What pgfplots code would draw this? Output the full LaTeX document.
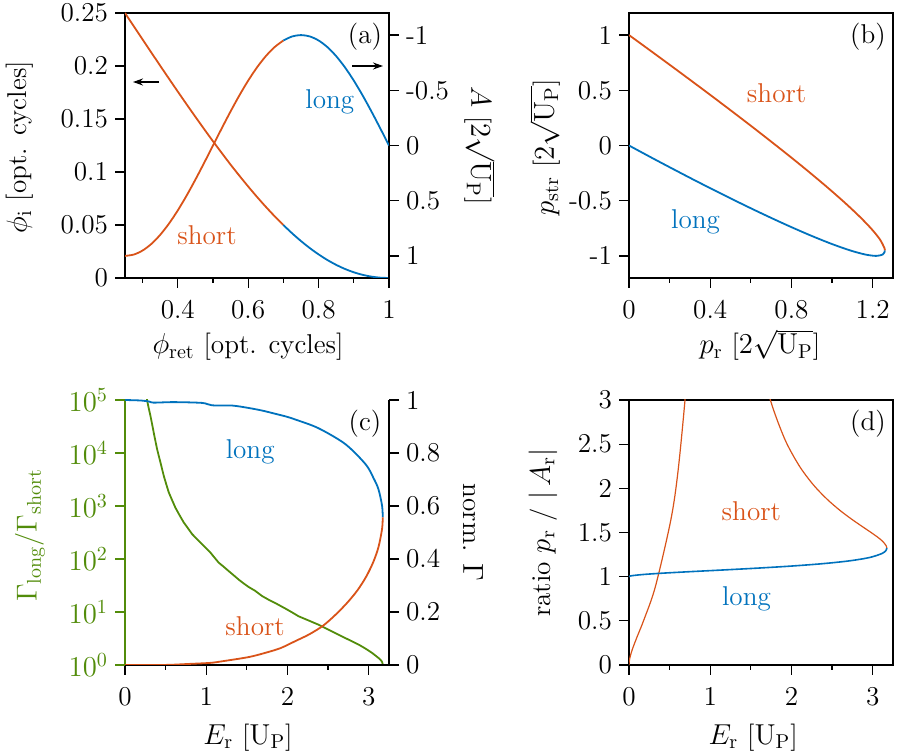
\documentclass[border=0pt]{standalone}
\usepackage{pgfplots}
\pgfplotsset{compat=1.18}
\usetikzlibrary{arrows.meta}
\definecolor{cred}{RGB}{217,83,25}
\definecolor{cblue}{RGB}{0,114,189}
\definecolor{cgreen}{RGB}{82,140,10}
\newcommand\fs{\fontsize{13.6}{16}\selectfont}
\pgfplotsset{
 panel/.style={scale only axis, width=132pt, height=132.5pt, anchor=south west,
   tick align=outside, major tick length=5pt, minor tick length=2.5pt,
   axis line style={line width=0.6pt},
   every tick/.append style={line width=0.6pt, black},
   tick label style={font=\fs}, label style={font=\fs},
   xticklabel style={yshift=-2.5pt},
   xtick pos=left, ytick pos=left,
   every axis plot/.append style={line width=0.9pt},
 },
 ylab/.style 2 args={every axis y label/.style={at={(axis description cs:#1,#2)}, anchor=center, rotate=90, font=\fs}},
 ylabr/.style 2 args={every axis y label/.style={at={(axis description cs:#1,#2)}, anchor=center, rotate=-90, font=\fs}},
 xlab/.style 2 args={every axis x label/.style={at={(axis description cs:#1,#2)}, anchor=center, font=\fs}},
}
\begin{document}
\begin{tikzpicture}
\path[use as bounding box] (0,0) rectangle (450pt,377.5pt);
% ---------------- (a) ----------------
\begin{axis}[panel, at={(62.5pt,238.5pt)}, xmin=0.25, xmax=1, ymin=0, ymax=0.25,
  xtick={0.4,0.6,0.8,1}, xticklabels={0.4,0.6,0.8,1}, minor xtick={0.3,0.5,0.7,0.9},
  ytick={0,0.05,0.1,0.15,0.2,0.25}, yticklabels={0,0.05,0.1,0.15,0.2,0.25},
  xlab={0.466}{-0.26}, ylab={-0.398}{0.494},
  xlabel={$\phi_{\mathrm{ret}}$ [opt. cycles]}, ylabel={$\phi_{\mathrm{i}}$ [opt. cycles]}]
\addplot[cred, smooth] coordinates {(0.25,0.25)(0.26,0.245)(0.275,0.2375)(0.3,0.225)(0.325,0.2126)(0.35,0.20025)(0.375,0.188)(0.4,0.17586)(0.425,0.16387)(0.45,0.15204)(0.475,0.14041)(0.5,0.12898)(0.525,0.11787)(0.55,0.10694)(0.575,0.09646)(0.6,0.0863)(0.625,0.07652)(0.65,0.06717)(0.675,0.05829)(0.7,0.04992)};
\addplot[cblue, smooth] coordinates {(0.7,0.04992)(0.725,0.04209)(0.75,0.03485)(0.775,0.02823)(0.8,0.02226)(0.825,0.01697)(0.85,0.01239)(0.875,0.008525)(0.9,0.005394)(0.925,0.002989)(0.95,0.001305)(0.975,0.00032)(1,0)};
\node[font=\fs] at (rel axis cs:0.909,0.909) {(a)};
\node[font=\fs, text=cblue] at (axis cs:0.832,0.166) {long};
\node[font=\fs, text=cred] at (axis cs:0.483,0.0406) {short};
\draw[line width=0.6pt,-{Stealth[length=5pt,width=3.5pt]}] (axis cs:0.3466,0.1849) -- (axis cs:0.2727,0.1849);
\draw[line width=0.6pt,-{Stealth[length=5pt,width=3.5pt]}] (axis cs:0.8949,0.2) -- (axis cs:0.983,0.2);
\end{axis}
\begin{axis}[panel, at={(62.5pt,238.5pt)}, xmin=0.25, xmax=1, ymin=-1.2, ymax=1.2, y dir=reverse,
  axis x line=none, axis y line*=right, ytick pos=right, tick align=outside,
  ytick={-1,-0.5,0,0.5,1}, yticklabels={-1,-0.5,0,0.5,1},
  ylabr={1.345}{0.5}, ylabel={$A$ [$2\sqrt{\mathrm{U}_{\mathrm{P}}}$]}]
\addplot[cred, smooth] coordinates {(0.25,1)(0.275,0.98769)(0.3,0.95106)(0.325,0.89101)(0.35,0.80902)(0.375,0.70711)(0.4,0.58779)(0.425,0.45399)(0.45,0.30902)(0.475,0.15643)(0.5,0)(0.525,-0.15643)(0.55,-0.30902)(0.575,-0.45399)(0.6,-0.58779)(0.625,-0.70711)(0.65,-0.80902)(0.675,-0.89101)(0.7,-0.95106)};
\addplot[cblue, smooth] coordinates {(0.7,-0.95106)(0.725,-0.98769)(0.75,-1)(0.775,-0.98769)(0.8,-0.95106)(0.825,-0.89101)(0.85,-0.80902)(0.875,-0.70711)(0.9,-0.58779)(0.925,-0.45399)(0.95,-0.30902)(0.975,-0.15643)(1,0)};
\end{axis}
% ---------------- (b) ----------------
\begin{axis}[panel, at={(314.5pt,238.5pt)}, xmin=0, xmax=1.3, ymin=-1.2, ymax=1.2,
  xtick={0,0.4,0.8,1.2}, xticklabels={0,0.4,0.8,1.2}, minor xtick={0.2,0.6,1.0},
  ytick={-1,-0.5,0,0.5,1}, yticklabels={-1,-0.5,0,0.5,1},
  xlab={0.496}{-0.253}, ylab={-0.318}{0.494},
  xlabel={$p_{\mathrm{r}}$ [$2\sqrt{\mathrm{U}_{\mathrm{P}}}$]}, ylabel={$p_{\mathrm{str}}$ [$2\sqrt{\mathrm{U}_{\mathrm{P}}}$]}]
\addplot[cred, smooth] coordinates {(0,1)(0.00923,0.98769)(0.03663,0.95106)(0.08151,0.89101)(0.14252,0.80902)(0.21796,0.70711)(0.30565,0.58779)(0.40307,0.45399)(0.50739,0.30902)(0.61565,0.15643)(0.72442,0)(0.81017,-0.12533)(0.89238,-0.24869)(0.979,-0.38268)(1.06537,-0.5225)(1.13865,-0.64945)(1.19632,-0.76041)(1.2363,-0.85264)(1.25785,-0.92978)(1.2596,-0.95106)};
\addplot[cblue, smooth] coordinates {(1.2596,-0.95106)(1.25793,-0.96858)(1.2491,-0.98769)(1.21722,-1)(1.16414,-0.98769)(1.09046,-0.95106)(0.99743,-0.89101)(0.88679,-0.80902)(0.76065,-0.70711)(0.62167,-0.58779)(0.47277,-0.45399)(0.31722,-0.30902)(0.15844,-0.15643)(0.06311,-0.06279)(0,0)};
\node[font=\fs] at (rel axis cs:0.905,0.909) {(b)};
\node[font=\fs, text=cred] at (axis cs:0.727,0.474) {short};
\node[font=\fs, text=cblue] at (axis cs:0.328,-0.688) {long};
\end{axis}
% ---------------- (c) ----------------
\begin{axis}[panel, at={(62.5pt,45pt)}, xmin=0, xmax=3.25, ymin=0, ymax=5,
  axis x line*=bottom, axis y line*=left, tick align=outside,
  xtick={0,1,2,3}, xticklabels={0,1,2,3}, minor xtick={0.5,1.5,2.5},
  ytick={0,1,2,3,4,5}, yticklabels={$10^0$,$10^1$,$10^2$,$10^3$,$10^4$,$10^5$},
  yticklabel style={text=cgreen}, ytick style={cgreen}, y axis line style={cgreen},
  xlab={0.466}{-0.273}, ylab={-0.36}{0.489},
  ylabel style={text=cgreen},
  xlabel={$E_{\mathrm{r}}$ [$\mathrm{U}_{\mathrm{P}}$]}, ylabel={$\Gamma_{\mathrm{long}}/\Gamma_{\mathrm{short}}$}]
\addplot[cgreen] coordinates {(0.265,5.05)(0.271,5.0)(0.29,4.86)(0.312,4.71)(0.333,4.55)(0.353,4.39)(0.374,4.23)(0.394,4.08)(0.415,3.95)(0.435,3.83)(0.456,3.70)(0.477,3.57)(0.508,3.41)(0.538,3.26)(0.58,3.11)(0.62,2.97)(0.67,2.83)(0.723,2.69)(0.775,2.58)(0.826,2.47)(0.89,2.37)(0.949,2.28)(1.0,2.20)(1.052,2.12)(1.1,2.03)(1.154,1.93)(1.21,1.86)(1.278,1.77)(1.34,1.69)(1.401,1.61)(1.46,1.54)(1.524,1.47)(1.602,1.40)(1.689,1.30)(1.77,1.23)(1.849,1.17)(1.92,1.11)(1.98,1.06)(2.06,0.99)(2.136,0.92)(2.26,0.84)(2.383,0.76)(2.5,0.67)(2.63,0.57)(2.75,0.48)(2.876,0.385)(2.96,0.31)(3.04,0.23)(3.09,0.17)(3.123,0.13)(3.15,0.09)(3.164,0.06)(3.176,0)};
\end{axis}
\begin{axis}[panel, at={(62.5pt,45pt)}, xmin=0, xmax=3.25, ymin=0, ymax=1,
  axis x line*=top, xtick=\empty, axis y line*=right, ytick pos=right, tick align=outside,
  ytick={0,0.2,0.4,0.6,0.8,1}, yticklabels={0,0.2,0.4,0.6,0.8,1},
  ylabr={1.318}{0.5}, ylabel={norm. $\Gamma$}]
\addplot[cblue, smooth] coordinates {(0,1)(0.2,0.998)(0.3,0.994)(0.35,0.99)(0.6,0.992)(0.95,0.989)(1.07,0.98)(1.32,0.979)(1.52,0.97)(1.69,0.96)(1.85,0.948)(1.99,0.937)(2.1,0.926)(2.3782,0.894)(2.7104,0.834)(2.9633,0.757)(3.06,0.705)(3.1205,0.663)(3.1648,0.601)(3.1732,0.557)};
\addplot[cred, smooth] coordinates {(0,0)(0.5,0.0003)(0.785,0.004)(1.05,0.008)(1.196,0.014)(1.524,0.03)(1.74,0.047)(1.917,0.064)(2.0957,0.09)(2.27,0.116)(2.4371,0.148)(2.593,0.19)(2.7358,0.235)(2.862,0.282)(2.9702,0.334)(3.057,0.389)(3.1205,0.445)(3.1644,0.513)(3.1732,0.557)};
\node[font=\fs] at (rel axis cs:0.909,0.909) {(c)};
\node[font=\fs, text=cblue] at (axis cs:1.541,0.804) {long};
\node[font=\fs, text=cred] at (axis cs:1.602,0.148) {short};
\end{axis}
% ---------------- (d) ----------------
\begin{axis}[panel, at={(314.5pt,45pt)}, xmin=0, xmax=3.25, ymin=0, ymax=3,
  xtick={0,1,2,3}, xticklabels={0,1,2,3}, minor xtick={0.5,1.5,2.5},
  ytick={0,0.5,1,1.5,2,2.5,3}, yticklabels={0,0.5,1,1.5,2,2.5,3},
  xlab={0.47}{-0.273}, ylab={-0.326}{0.5},
  xlabel={$E_{\mathrm{r}}$ [$\mathrm{U}_{\mathrm{P}}$]}, ylabel={ratio $p_{\mathrm{r}}$ / $|\,A_{\mathrm{r}}|$}]
\addplot[cred, line width=0.6pt, smooth] coordinates {(0,0)(0.0005,0.0158)(0.00268,0.03852)(0.01329,0.09148)(0.04062,0.17616)(0.09501,0.30824)(0.18684,0.52)(0.32493,0.88784)(0.51488,1.64193)(0.60584,2.21312)(0.70533,3.16928)(0.75805,3.9356)};
\addplot[cred, line width=0.6pt, smooth] coordinates {(1.45092,4.5455)(1.59268,3.5883)(1.73568,3.01463)(1.91688,2.5583)(2.09571,2.25479)(2.27002,2.03898)(2.43714,1.87804)(2.59305,1.75325)(2.73583,1.65402)(2.86236,1.57328)(2.97017,1.50631)(3.05688,1.44998)(3.12045,1.40188)(3.16437,1.35284)(3.17322,1.32442)};
\addplot[cblue, line width=0.8pt, smooth] coordinates {(3.17322,1.32442)(3.16477,1.29874)(3.1205,1.26465)(2.96326,1.21722)(2.71044,1.17865)(2.37821,1.14658)(1.98974,1.11945)(1.57279,1.09613)(1.15718,1.07572)(0.77295,1.05764)(0.44702,1.04137)(0.20126,1.02654)(0.05021,1.01285)(0.00797,1.0051)(0,1)};
\node[font=\fs] at (rel axis cs:0.905,0.909) {(d)};
\node[font=\fs, text=cred] at (axis cs:1.507,1.739) {short};
\node[font=\fs, text=cblue] at (axis cs:1.446,0.753) {long};
\end{axis}
\end{tikzpicture}
\end{document}
